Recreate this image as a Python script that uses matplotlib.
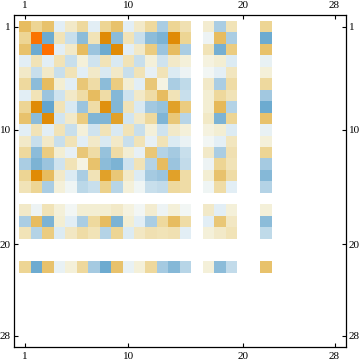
import numpy as np
import matplotlib
matplotlib.use("Agg")
import matplotlib.pyplot as plt
from matplotlib.colors import LinearSegmentedColormap

# which rows / columns of the matrix have values
indices = [1, 2, 3, 4, 5, 6, 7, 8, 9, 10, 11, 12, 13, 14, 15, 17, 18, 19, 22]
tick_labels = [1, 10, 20, 28]

# one list per row (blue is negative, orange positive)
row_01 = [4.2, 3, 4, -1, 1.5, 2.7, -1, 3, 4, -1, 1.5, 2.7, -3, 3, 2.2, 1.3, -3, 2, 3]
row_02 = [3, 6.8, -5, 2, -2, -4, 2, 6, -4, 2, -2, -4, -4.5, 6, 3, -0.5, 4.2, -3, -5]
row_03 = [4, -5, 7.2, -1, 1.5, 4.2, -3.5, -5, 6, -1, 1.5, 3.5, -3.5, 4.2, -3, 2, -4.7, 3.5, 4]
row_04 = [-1, 2, -1, 2, -2, 1, -1.7, 2, -1.3, 2, -2, 1, -1.7, 1.5, 1, 0.8, 1.2, -1.2, -0.7]
row_05 = [1.5, -2, 1.5, -2, 2, -1, 1.5, -1.3, 1.5, -2, 2, -0.8, 2, -1.2, -0.5, -0.3, -0.9, 1.8, 1]
row_06 = [2.7, -4, 4.2, 1.2, -1, 3.7, 2.5, -4, 3.5, 1.2, -1, 3.7, 0.7, -3, -2.3, 1.5, -3, 2.5, 2.7]
row_07 = [-1, 2, -3.5, -1.7, 1.5, 2.5, 4.2, 2.5, -4.2, -1.7, 1.5, 2.5, 4.2, 2, -2, 1.2, 2.8, 2, -3.3]
row_08 = [3, 6, -5.5, 2, -1.3, -3.5, 2.5, 5.8, -4.3, 2, -1.3, -3.3, -3.7, 5.2, 3.5, 1.2, 4.3, -2.7, -5]
row_09 = [4, -4, 6, -1.6, 1.5, 3.5, -4.4, -4.4, 5.2, -1.6, 1.5, 2.7, -4.4, 3.7, -2.6, 1.6, -4.5, 3, 4]
row_10 = [-1, 2, -1, 2, -2, 1, -1.7, 2, -1.3, 2, -2, 1, -1.7, 1.5, 1, 0.8, 1.2, -1.2, -0.7]
row_11 = [1.5, -2, 1.5, -2, 2, -1, 1.5, -1.3, 1.5, -2, 2, -0.8, 2, -1.2, -0.6, -0.3, -0.9, 1.8, 1]
row_12 = [2.7, -4, 3.5, 1.2, -0.8, 3.7, 2.5, -3.7, 2.5, 1.2, -0.8, 3.7, -2.7, -3.2, -2, 1.5, -3, 2.2, 3]
row_13 = [-3, -4.5, -3.5, -1.7, 2, 0.7, 4, -4, -4.5, -1.7, 2, -2.7, 4.2, -3.5, -2.2, -0.5, 3, 2, -3.2]
row_14 = [3, 6, 4.2, 1.5, -1.2, -3, 2, 5.2, 3.7, 1.5, -1.2, -3.2, -3.5, 5.2, 2.5, 1.2, 4, 2.5, -4.2]
row_15 = [2, 3, -3, 1, -0.4, -2.4, -2, 3.2, -2.6, 1, -0.4, -2, -2.2, 2.7, 2.5, -0.4, 2.5, -1, -2.7]
row_17 = [1.5, -0.5, 2, 1, -0.3, 1.2, 1.2, 1.2, 1.5, 0.8, -0.3, 1.3, -0.5, 1, -0.3, 1.5, -1, 1, 1]
row_18 = [-3, 4.2, -4.5, 1.2, -1, -3, 2.7, 4.2, -4.5, 1.2, -1, -3, 2.7, 4.2, 2.5, -1, 3.7, 1.7, -4]
row_19 = [2, -2.7, 3.5, -1.2, 1.7, 2.5, 2, -2.7, 3, -1.2, 1.7, 2.2, 2, 2.2, -1, 1, 1.5, 2, -2.3]
row_22 = [3, -5, 4, -0.7, 1, 2.8, -3.2, -5, 4, -0.7, 1, 2.8, -3.2, -4.2, -2.6, 1, -4, -2.2, 4]

rows = [row_01, row_02, row_03, row_04, row_05, row_06, row_07, row_08, row_09, row_10,
        row_11, row_12, row_13, row_14, row_15, row_17, row_18, row_19, row_22]

# put the rows into the full 28x28 matrix, the rest stays empty
matrix = np.full((28, 28), np.nan)
for r, row in zip(indices, rows):
    for c, v in zip(indices, row):
        matrix[r - 1, c - 1] = v

# colour scale: pale blues / pale yellows near zero, orange at the top
nodes = [(-6, "#5a9fcc"), (-5, "#6dabd0"), (-4, "#8dbcd9"), (-3, "#abcee3"), (-2, "#c8dfec"),
         (-1, "#e2eef5"), (0, "#f8f9f3"), (1, "#f4f0da"), (2, "#f1e3b8"), (3, "#edd594"),
         (4, "#e8c26c"), (5, "#e2a632"), (6, "#df8c06"), (7, "#ff6f00"), (8, "#ff6f00")]
cmap = LinearSegmentedColormap.from_list("mat", [((v + 6) / 14, c) for v, c in nodes])

plt.rcParams["font.family"] = "Liberation Serif"
plt.rcParams["font.size"] = 8

fig = plt.figure(figsize=(3.6, 3.63), dpi=100)
ax = fig.add_axes([13.7 / 360, 1 - 347.3 / 363, 332.3 / 360, 332 / 363])

edges = np.arange(0.5, 29.5)
ax.pcolormesh(edges, edges, matrix, cmap=cmap, vmin=-6, vmax=8)

ax.set_xlim(0, 29)
ax.set_ylim(29, 0)
ax.set_xticks(tick_labels)
ax.set_yticks(tick_labels)
ax.tick_params(direction="in", length=2.8, width=0.8,
               top=True, bottom=True, left=True, right=True,
               labeltop=True, labelbottom=True, labelleft=True, labelright=True)
ax.tick_params(axis="x", pad=3.6)
ax.tick_params(axis="y", pad=2.2)
for s in ax.spines.values():
    s.set_linewidth(0.9)

fig.savefig("out.png", dpi=100)
